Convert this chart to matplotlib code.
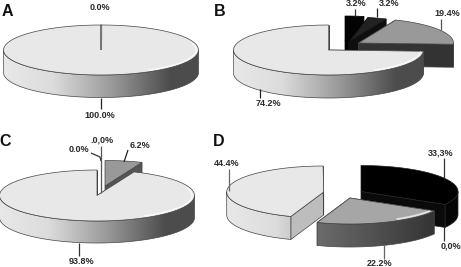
import numpy as np
import matplotlib
matplotlib.use('Agg')
import matplotlib.pyplot as plt
from matplotlib.colors import LinearSegmentedColormap
from matplotlib.patches import Polygon

plt.rcParams['font.family'] = ['Liberation Sans', 'DejaVu Sans']

# values in percent, clockwise from 12 o'clock
values_a = [0.0, 100.0]
values_b = [3.2, 3.2, 19.4, 74.2]
values_c = [0.0, 0.0, 6.2, 93.8]
values_d = [33.3, 0.0, 22.2, 44.4]

# text, text x, text y, leader points, leader colour
labels_a = [('0.0%', 100, 8, [(101, 24), (101, 40)], '#777777'),
            ('100.0%', 100, 115, [(101, 98), (101, 109)], '#222222')]
labels_b = [('3.2%', 356, 4, [(355, 9), (355, 16)], '#333333'),
            ('3.2%', 389, 4, [(377, 8), (377, 17)], '#222222'),
            ('19.4%', 447, 14, [(441, 19), (441, 30)], '#555555'),
            ('74.2%', 268, 103, [(260, 89), (260, 98)], '#222222')]
labels_c = [('0.0%', 79, 150, [(91, 153), (100, 157), (101, 161)], '#333333'),
            ('.0,0%', 102, 140, [(101, 146), (101, 193)], '#555555'),
            ('6.2%', 140, 145, [(128, 150), (124, 162)], '#222222'),
            ('93.8%', 82, 261, [(79, 243), (79, 256)], '#333333')]
labels_d = [('44.4%', 227, 164, [(228.7, 169), (228.7, 191)], '#666666'),
            ('33,3%', 441, 153, [(444, 158), (444, 178)], '#333333'),
            ('0,0%', 451, 246, [(444, 226), (444, 241)], '#333333'),
            ('22.2%', 380, 264, [(384, 245), (384, 259)], '#666666')]

light = LinearSegmentedColormap.from_list('l', [(0, '#e8e8e8'), (0.25, '#dcdcdc'), (0.55, '#9a9a9a'), (0.85, '#4c4c4c'), (1, '#4c4c4c')])
gray = LinearSegmentedColormap.from_list('g', ['#8a8a8a', '#2e2e2e'])
dark = LinearSegmentedColormap.from_list('d', ['#161616', '#0c0c0c'])
black = LinearSegmentedColormap.from_list('b', ['#050505', '#050505'])


def rim(cx, cy, rx, ry, a, b, n=80):
    t = np.radians(np.linspace(a, b, n))
    return np.column_stack([cx + rx * np.sin(t), cy - ry * np.cos(t)])


def wedge(ax, value, start, cx, cy, rx, ry, h, top, face, cmap, z, line='#444444', sheen=False):
    end = start + value * 3.6
    if value == 0:
        return end
    edge = dict(edgecolor=line, linewidth=0.5, zorder=z)
    # flat side faces
    for a in (start, end):
        p = rim(cx, cy, rx, ry, a, a, 1)[0]
        ax.add_patch(Polygon([(cx, cy), p, p + (0, h), (cx, cy + h)], facecolor=face, **edge))
    # curved front wall with gradient
    a, b = max(start, 90), min(end, 270)
    if b > a:
        arc = rim(cx, cy, rx, ry, a, b)
        wall = Polygon(np.vstack([arc, arc[::-1] + (0, h)]), facecolor='none', **edge)
        ax.add_patch(wall)
        grad = np.linspace(0, 1, 256).reshape(1, -1)
        im = ax.imshow(grad, cmap=cmap, vmin=0, vmax=1, aspect='auto', zorder=z,
                       extent=(cx - rx, cx + rx, cy + ry + h + 1, cy - 1))
        im.set_clip_path(wall)
        wall.set_zorder(z + 0.1)
    # top surface
    pts = np.vstack([[(cx, cy)], rim(cx, cy, rx, ry, start, end)])
    ax.add_patch(Polygon(pts, facecolor=top, edgecolor=line, linewidth=0.5, zorder=z + 0.2))
    if sheen:
        glow = rim(cx, cy, rx * 0.975, ry * 0.93, max(start + 3, 75), min(end - 3, 150))
        ax.plot(glow[:, 0], glow[:, 1], color='white', lw=1.2, alpha=0.7, zorder=z + 0.3)
    return end


def put_labels(ax, labels):
    for text, x, y, line, col in labels:
        xs, ys = zip(*line)
        ax.plot(xs, ys, color=col, lw=0.9, zorder=20, solid_capstyle='butt')
        ax.text(x, y, text, ha='center', va='center', fontsize=6.5, color='#2a2a2a',
                fontweight='bold', zorder=21)


fig = plt.figure(figsize=(4.61, 2.67), dpi=100)
ax = fig.add_axes([0, 0, 1, 1])

# A
wedge(ax, values_a[1], 0, 101, 50, 97.5, 25, 22.5, '#e8e8e8', '#cccccc', light, 1, sheen=True)
put_labels(ax, labels_a)

# B
a = wedge(ax, values_b[0], 0, 345, 41, 95, 25, 23, '#030303', '#030303', black, 1, line='#000000')
a = wedge(ax, values_b[1], a, 349, 42, 95, 25, 23, '#222222', '#0e0e0e', dark, 2, line='#111111')
a = wedge(ax, values_b[2], a, 358.5, 43, 95, 25, 23, '#999999', '#333333', gray, 3)
a = wedge(ax, values_b[3], a, 328.5, 50, 95, 25, 23, '#e8e8e8', '#cccccc', light, 4, sheen=True)
put_labels(ax, labels_b)

# C
a = wedge(ax, values_c[2], 0, 105, 186, 97.5, 25.5, 22, '#999999', '#555555', gray, 1)
a = wedge(ax, values_c[3], a, 97, 195.5, 97.5, 25.5, 22, '#e8e8e8', '#cccccc', light, 2, sheen=True)
put_labels(ax, labels_c)

# D
a = wedge(ax, values_d[0], 0, 361, 191.5, 97, 26, 23, '#000000', '#0a0a0a', black, 1, line='#222222')
a = wedge(ax, values_d[2], a + values_d[1] * 3.6, 350, 198, 97, 26, 23, '#a6a6a6', '#333333', gray, 3, sheen=True)
a = wedge(ax, values_d[3], a, 323.7, 192, 97, 26, 23, '#e8e8e8', '#bdbdbd', light, 2)
put_labels(ax, labels_d)

for letter, x, y in [('A', 7, 11), ('B', 220, 11), ('C', 5, 141), ('D', 219, 141)]:
    ax.text(x, y, letter, ha='center', va='center', fontsize=11.5, fontweight='bold', color='#111111', zorder=22)

ax.set_xlim(0, 461)
ax.set_ylim(267, 0)
ax.axis('off')
fig.savefig('out.png', dpi=100)
